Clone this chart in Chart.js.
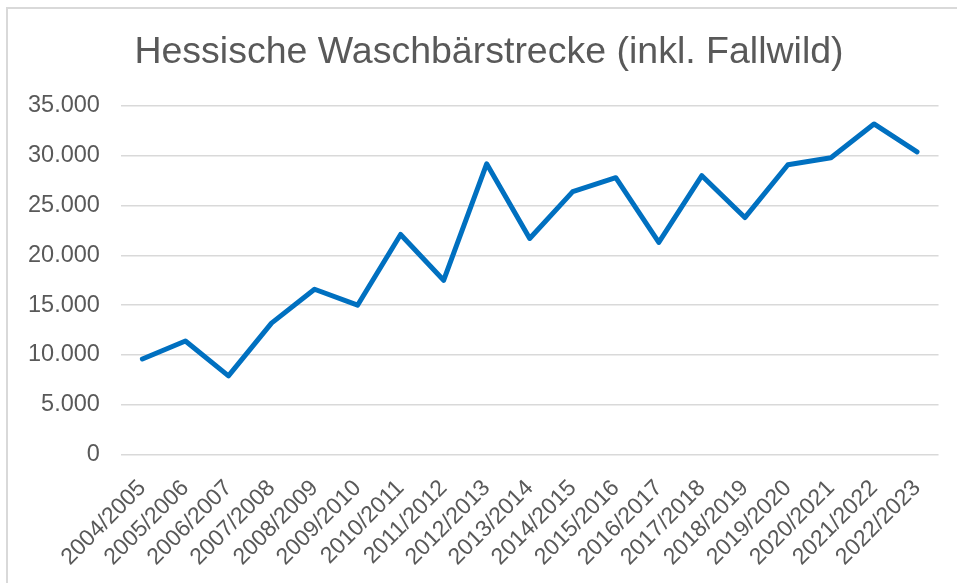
<!DOCTYPE html>
<html>
<head>
<meta charset="utf-8">
<script src="https://cdn.jsdelivr.net/npm/chart.js@4.4.1/dist/chart.umd.min.js"></script>
<style>
  html, body { margin: 0; padding: 0; background: #ffffff; }
  #wrap { position: relative; width: 957px; height: 583px; overflow: hidden; }
  #frame { position: absolute; left: 6px; top: 7px; width: 1000px; height: 700px;
           border-left: 2px solid #d9d9d9; border-top: 2px solid #d9d9d9; }
  #c { position: absolute; left: 0; top: 0; }
</style>
</head>
<body>
<div id="wrap">
  <div id="frame"></div>
  <canvas id="c" width="957" height="583"></canvas>
</div>
<script>
const chartTitle = "Hessische Waschbärstrecke (inkl. Fallwild)";
const seasons = ["2004/2005","2005/2006","2006/2007","2007/2008","2008/2009","2009/2010","2010/2011","2011/2012","2012/2013","2013/2014","2014/2015","2015/2016","2016/2017","2017/2018","2018/2019","2019/2020","2020/2021","2021/2022","2022/2023"];
const strecke = [9600, 11400, 7900, 13200, 16600, 15000, 22100, 17500, 29200, 21700, 26400, 27800, 21300, 28000, 23800, 29100, 29800, 33200, 30400];
const yMin = 0, yMax = 35000, yStep = 5000;

const textColor = '#595959';
const gridColor = '#d9d9d9';
const lineColor = '#0070C0';

function fmtDE(v) {
  return String(v).replace(/\B(?=(\d{3})+(?!\d))/g, '.');
}

const titlePlugin = {
  id: 'customTitle',
  afterDraw(chart) {
    const ctx = chart.ctx;
    ctx.save();
    ctx.font = '37.5px "Liberation Sans", Arial, sans-serif';
    ctx.fillStyle = textColor;
    ctx.textAlign = 'center';
    ctx.textBaseline = 'alphabetic';
    ctx.fillText(chartTitle, 489, 63);
    ctx.restore();
  }
};

new Chart(document.getElementById('c'), {
  type: 'line',
  data: {
    labels: seasons,
    datasets: [{
      data: strecke,
      borderColor: lineColor,
      backgroundColor: lineColor,
      borderWidth: 5,
      pointRadius: 0,
      pointHoverRadius: 0,
      tension: 0,
      borderCapStyle: 'round',
      borderJoinStyle: 'round',
      fill: false
    }]
  },
  options: {
    responsive: false,
    animation: false,
    events: [],
    layout: { padding: { left: 7, right: 18, top: 106, bottom: -8 } },
    plugins: {
      legend: { display: false },
      title: { display: false },
      tooltip: { enabled: false }
    },
    scales: {
      x: {
        type: 'category',
        offset: true,
        grid: { display: false, drawTicks: false },
        border: { display: false },
        ticks: {
          autoSkip: false,
          minRotation: 45,
          maxRotation: 45,
          padding: 20,
          color: textColor,
          font: { family: '"Liberation Sans", Arial, sans-serif', size: 23 }
        }
      },
      y: {
        min: yMin,
        max: yMax,
        grid: { color: gridColor, lineWidth: 1.5, drawTicks: false },
        border: { display: false },
        ticks: {
          stepSize: yStep,
          padding: 21,
          color: textColor,
          font: { family: '"Liberation Sans", Arial, sans-serif', size: 23.5 },
          callback: (v) => fmtDE(v)
        }
      }
    }
  },
  plugins: [titlePlugin]
});
</script>
</body>
</html>
